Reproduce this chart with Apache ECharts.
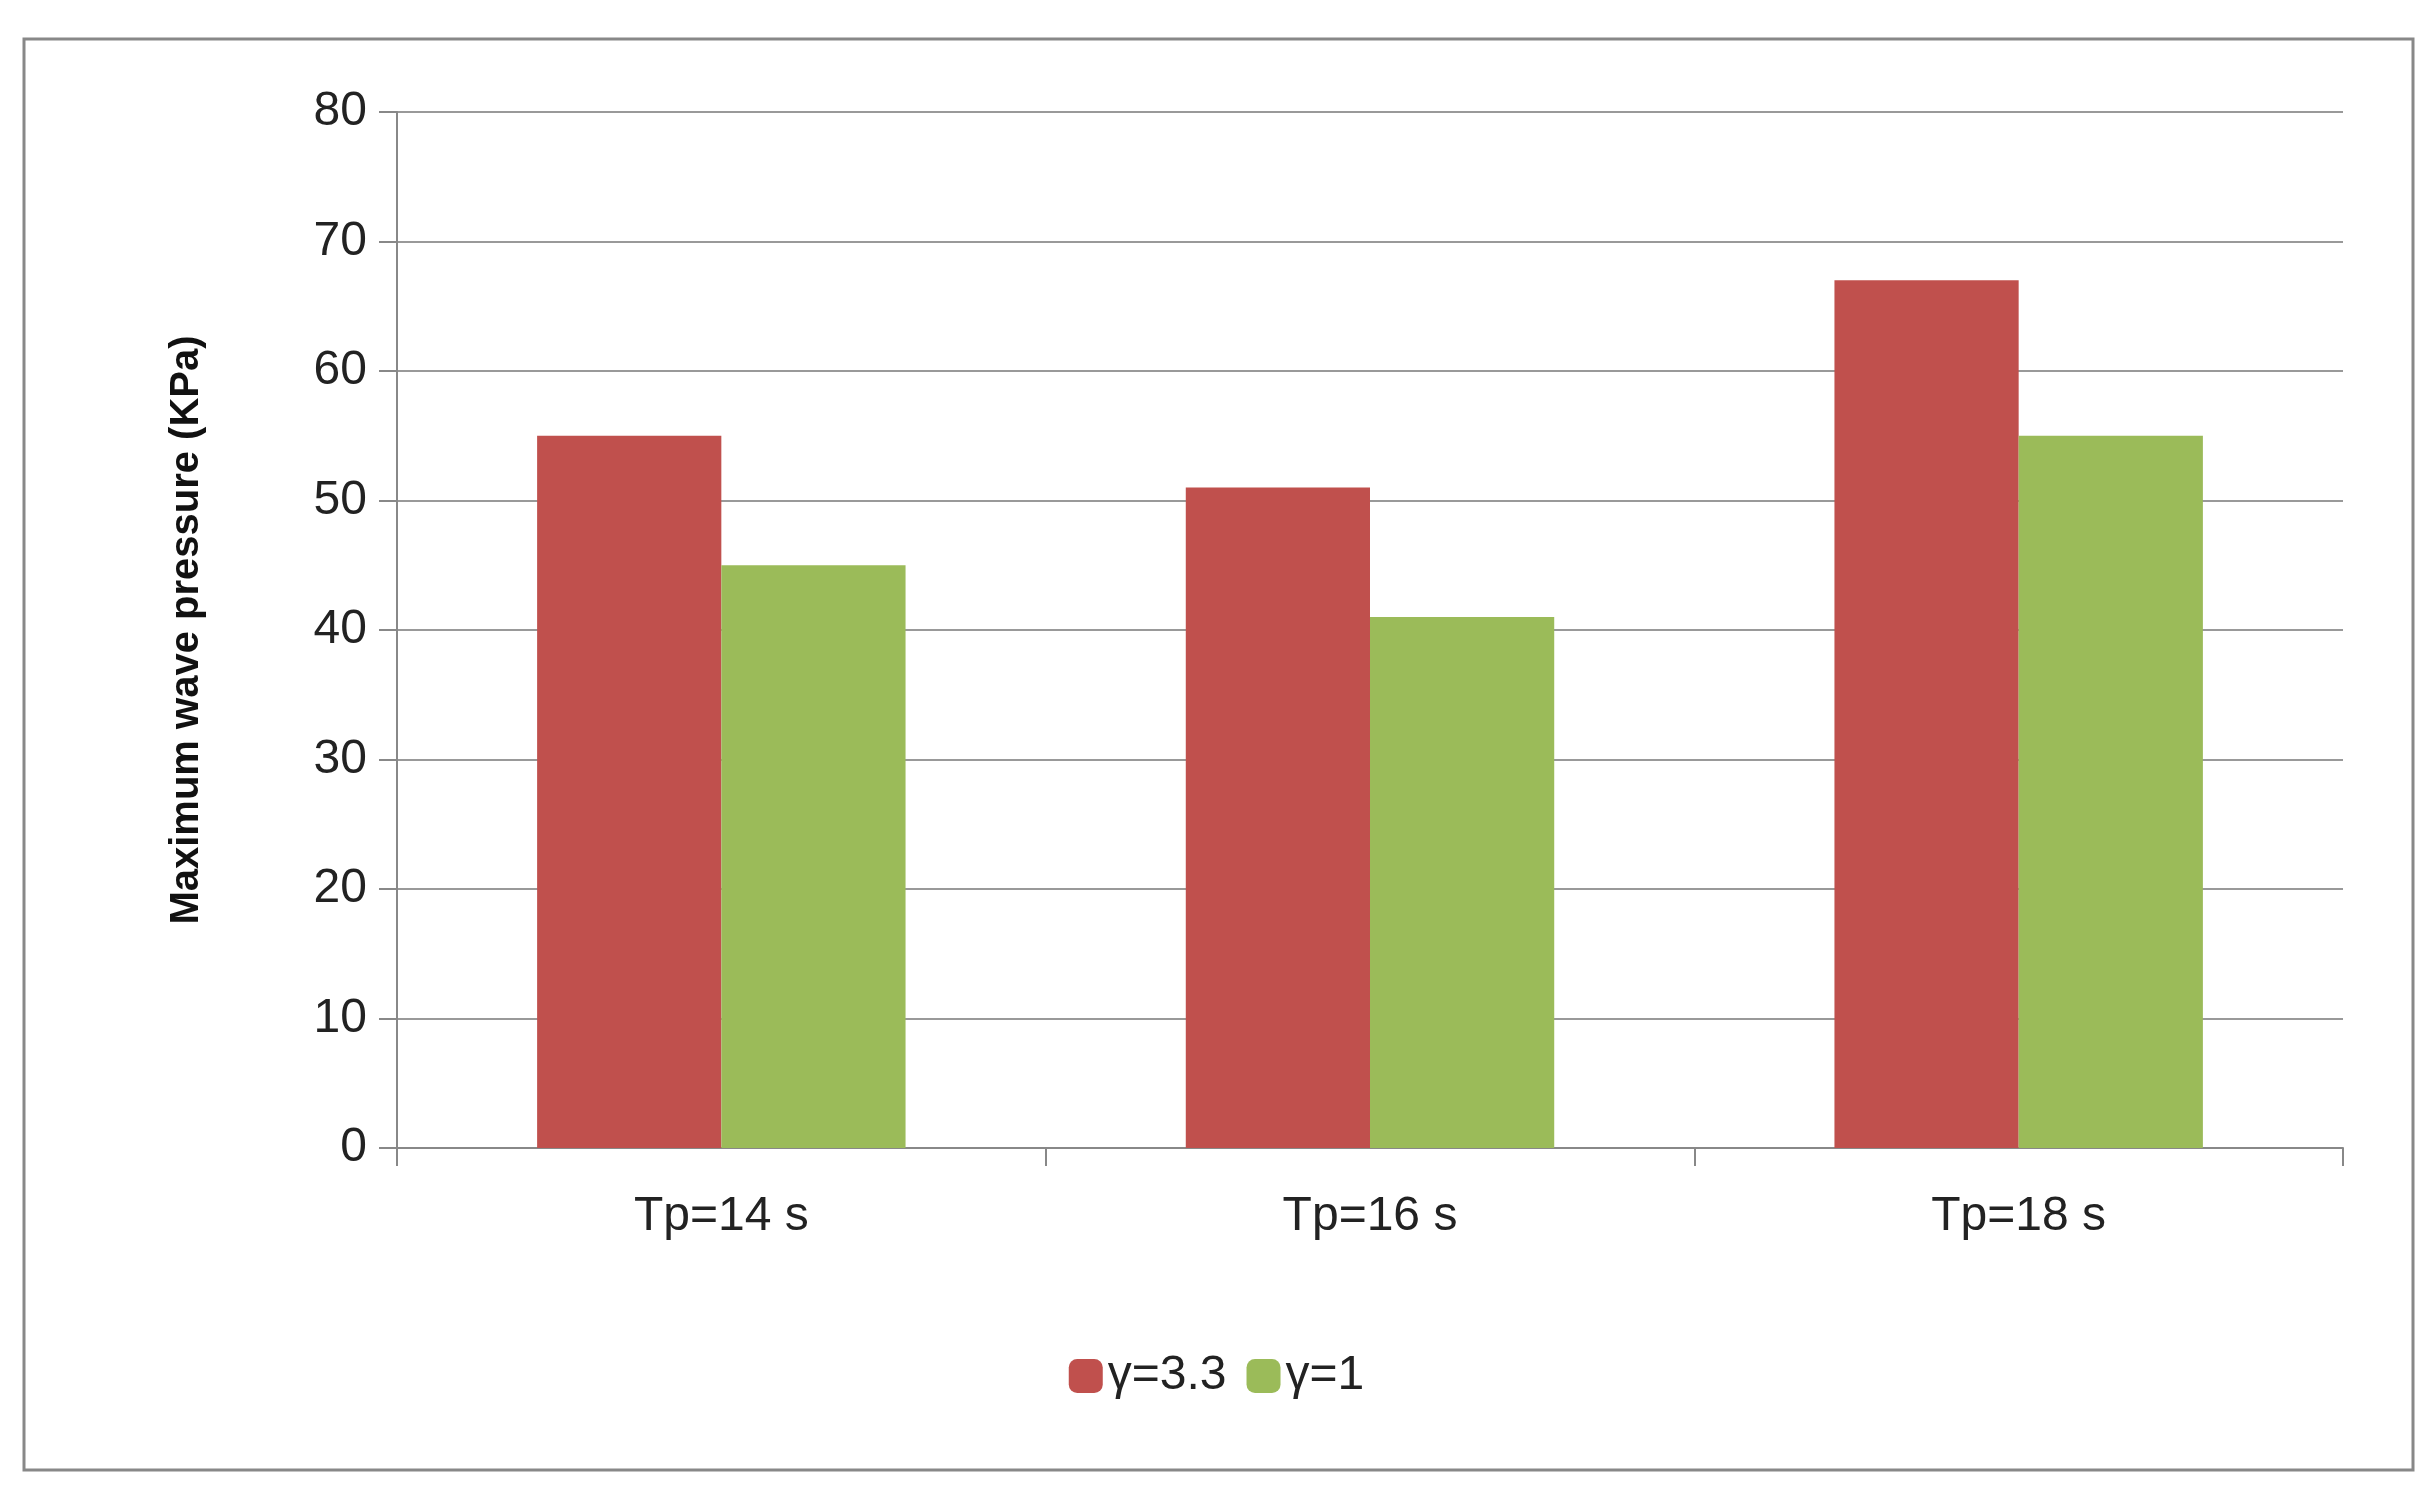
<!DOCTYPE html>
<html><head><meta charset="utf-8">
<script src="https://cdn.jsdelivr.net/npm/echarts@6/dist/echarts.min.js"></script>
<style>html,body{margin:0;padding:0;background:#fff}#c{width:2433px;height:1500px}</style>
</head><body><div id="c"></div>
<script>
const categories = ['Tp=14 s','Tp=16 s','Tp=18 s'];
const gamma33 = [55, 51, 67];
const gamma1 = [45, 41, 55];
const chart = echarts.init(document.getElementById('c'));
chart.setOption({
  animation:false,
  backgroundColor:'#fff',
  graphic:[{type:'rect',shape:{x:24,y:39,width:2389,height:1431},style:{fill:'none',stroke:'#888',lineWidth:3}}],
  grid:{left:397,right:90,top:112,bottom:352},
  legend:{bottom:95,left:'center',itemWidth:34,itemHeight:34,itemGap:20,
    textStyle:{fontFamily:'Liberation Sans',fontSize:48,color:'#222'},
    data:['γ=3.3','γ=1']},
  xAxis:{type:'category',data:categories,
    axisLine:{lineStyle:{color:'#888',width:2}},
    axisTick:{show:true,length:18,lineStyle:{color:'#888',width:2}},
    axisLabel:{fontFamily:'Liberation Sans',fontSize:48,color:'#222',margin:45}},
  yAxis:{type:'value',min:0,max:80,interval:10,
    name:'Maximum wave pressure (KPa)',nameLocation:'middle',nameGap:190,
    nameTextStyle:{fontFamily:'Liberation Sans',fontSize:40,fontWeight:'bold',color:'#111'},
    axisLine:{show:true,lineStyle:{color:'#888',width:2}},
    axisTick:{show:true,length:18,lineStyle:{color:'#888',width:2}},
    splitLine:{lineStyle:{color:'#999',width:2}},
    axisLabel:{fontFamily:'Liberation Sans',fontSize:48,color:'#222',margin:30}},
  series:[
    {name:'γ=3.3',type:'bar',data:gamma33,barWidth:'28.4%',barGap:'0%',itemStyle:{color:'#C0504D'}},
    {name:'γ=1',type:'bar',data:gamma1,barWidth:'28.4%',itemStyle:{color:'#9BBB59'}}
  ]
});
</script></body></html>
